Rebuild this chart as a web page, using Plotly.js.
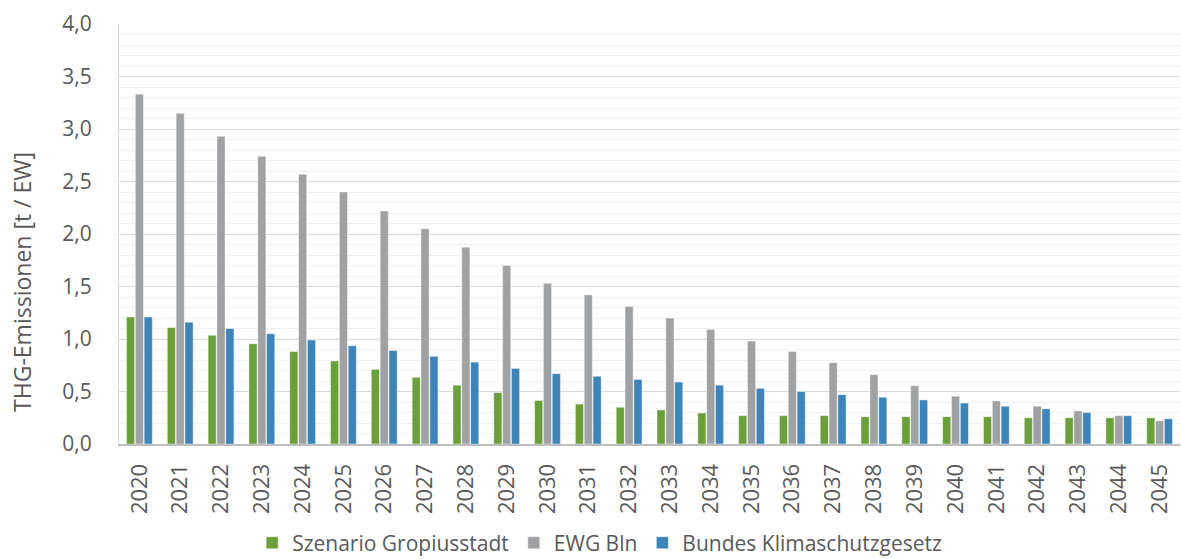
<!DOCTYPE html>
<html>
<head>
<meta charset="utf-8">
<script src="https://cdn.plot.ly/plotly-3.0.1.min.js"></script>
<style>html,body{margin:0;padding:0;background:#fff;}#chart{width:1181px;height:559px;}</style>
</head>
<body>
<div id="chart"></div>
<script>
const years = ['2020','2021','2022','2023','2024','2025','2026','2027','2028','2029','2030','2031','2032','2033','2034','2035','2036','2037','2038','2039','2040','2041','2042','2043','2044','2045'];
const szenarioGropiusstadt = [1.21,1.11,1.035,0.955,0.88,0.79,0.71,0.635,0.56,0.49,0.415,0.38,0.35,0.325,0.295,0.27,0.27,0.27,0.26,0.26,0.26,0.26,0.25,0.25,0.25,0.25];
const ewgBln = [3.33,3.15,2.93,2.74,2.57,2.40,2.22,2.05,1.875,1.70,1.53,1.42,1.31,1.20,1.09,0.98,0.88,0.775,0.66,0.555,0.455,0.41,0.36,0.315,0.27,0.22];
const bundesKlimaschutzgesetz = [1.21,1.16,1.10,1.05,0.99,0.935,0.89,0.835,0.78,0.72,0.67,0.645,0.615,0.59,0.56,0.53,0.50,0.47,0.445,0.42,0.39,0.36,0.335,0.30,0.27,0.24];
const seriesNames = ['Szenario Gropiusstadt','EWG Bln','Bundes Klimaschutzgesetz'];
const yTitle = 'THG-Emissionen [t / EW]';
const colors = ['#6a9f3a','#a0a1a3','#3d85b9'];

const FONT = '"Open Sans", sans-serif';
const TXT = '#595959';
const data = [szenarioGropiusstadt, ewgBln, bundesKlimaschutzgesetz].map((vals,i)=>({
  type:'bar', x:years, y:vals, name:seriesNames[i],
  marker:{color:colors[i], line:{color:'rgba(255,255,255,0.55)', width:0.8}},
  hoverinfo:'x+y+name'
}));

const layout = {
  width:1181, height:559,
  margin:{l:119, r:1, t:24, b:115, autoexpand:false},
  paper_bgcolor:'#fff', plot_bgcolor:'#fff',
  font:{family:FONT, color:TXT},
  separators:',.',
  barmode:'group', bargap:0.35, bargroupgap:0.08,
  showlegend:true,
  legend:{orientation:'h', x:0.453, xanchor:'center', y:-0.236, yanchor:'middle',
    font:{size:21, color:TXT, family:FONT}, itemwidth:30, tracegroupgap:0},
  xaxis:{type:'category', tickangle:-90, tickfont:{size:22, color:TXT},
    showline:true, linecolor:'#bfbfbf', linewidth:2, ticks:'', showgrid:false, zeroline:false,
    automargin:false, ticklabelstandoff:9},
  yaxis:{range:[0,4.0], dtick:0.5, tick0:0, tickformat:'.1f', tickfont:{size:21, color:TXT},
    showgrid:true, gridcolor:'#d9d9d9', gridwidth:1,
    minor:{dtick:0.1, tick0:0, showgrid:true, gridcolor:'#f0f0f0', gridwidth:1},
    showline:true, linecolor:'#d9d9d9', linewidth:1, zeroline:false, ticks:'', automargin:false,
    ticklabelstandoff:22},
  annotations:[{text:yTitle, xref:'paper', yref:'paper', x:-0.0914, y:0.386,
    xanchor:'center', yanchor:'middle', textangle:-90, showarrow:false,
    font:{size:23, color:TXT, family:FONT}}]
};
Plotly.newPlot('chart', data, layout, {displayModeBar:false, staticPlot:true});
</script>
</body>
</html>
